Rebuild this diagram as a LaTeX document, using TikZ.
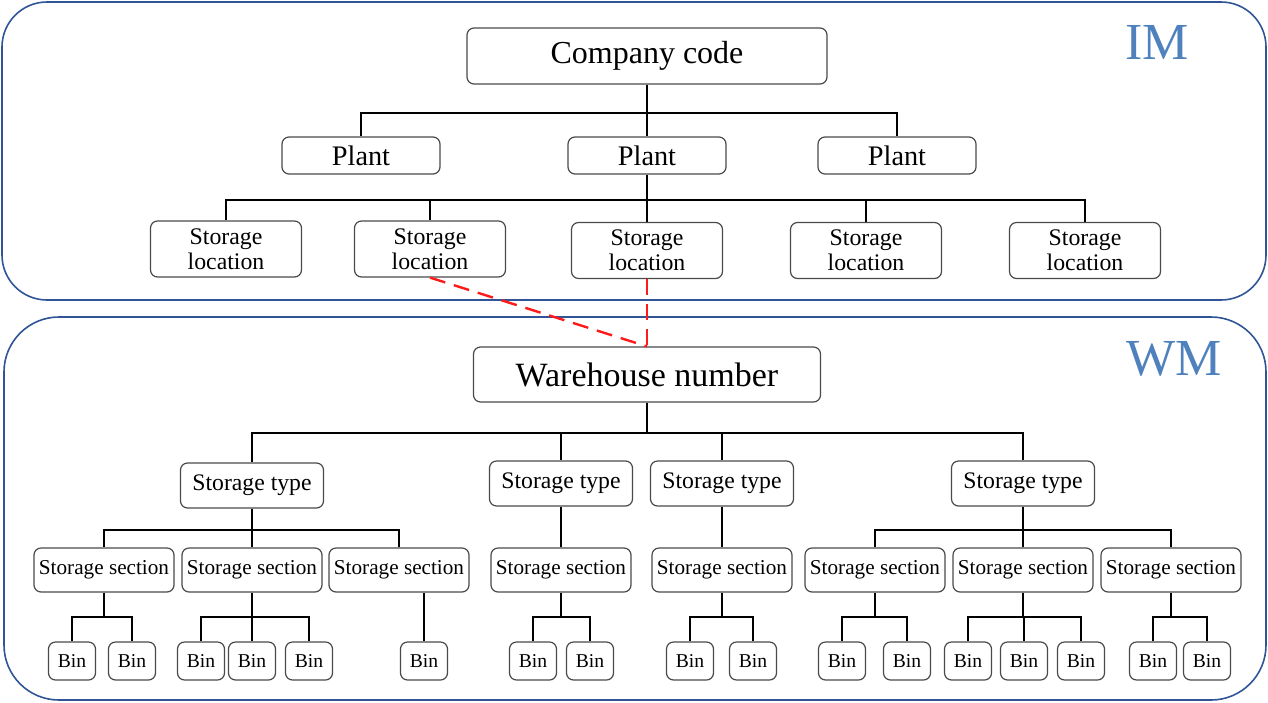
\documentclass[tikz,border=0pt]{standalone}
\usepackage{fontspec}
\setmainfont{Liberation Serif}
\usetikzlibrary{backgrounds}
\definecolor{regionblue}{HTML}{2F5597}
\definecolor{labelblue}{HTML}{4F81BD}
\definecolor{boxgray}{HTML}{4A4A4A}
\definecolor{dashred}{HTML}{FF1A1A}
% parent -> children through a horizontal bus at height #2
\newcommand\treeconn[3]{%
  \foreach \c in {#3}{\draw[link] (#1.south) -- (#1.south |- 0,#2) -| (\c.north);}}
\begin{document}
\begin{tikzpicture}[x=1pt,y=-1pt,
  region/.style={draw=regionblue, line width=1.6pt},
  box/.style={draw=boxgray, line width=1.2pt, rounded corners=7pt, inner sep=0pt,
    fill=white, align=center},
  bigbox/.style={box, minimum width=#1, minimum height=56pt,
    font=\fontsize{32}{36}\selectfont},
  plantbox/.style={box, minimum width=158pt, minimum height=37pt,
    font=\fontsize{28.3}{30}\selectfont},
  locbox/.style={box, minimum width=151pt, minimum height=56pt,
    font=\fontsize{23.8}{25}\selectfont},
  typebox/.style={box, minimum width=143pt, minimum height=45pt,
    font=\fontsize{23.7}{26}\selectfont},
  secbox/.style={box, minimum width=140pt, minimum height=44pt,
    font=\fontsize{21.2}{22}\selectfont},
  binbox/.style={box, minimum width=47pt, minimum height=38pt,
    font=\fontsize{19.6}{22}\selectfont},
  link/.style={line width=2.8pt, black},
  relation/.style={line width=2.4pt, dashred, dash pattern=on 16pt off 9pt},
  area/.style={text=labelblue, font=\fontsize{52}{56}\selectfont, inner sep=0pt}
]
\useasboundingbox (0,0) rectangle (1268,702);

% ---------- inventory management ----------
\node[bigbox=360pt] (cc) at (647,56) {Company code};
\node[plantbox] (p1) at (361,155.5) {Plant};
\node[plantbox] (p2) at (647,155.5) {Plant};
\node[plantbox] (p3) at (897,155.5) {Plant};
\node[locbox] (sl1) at (226,249) {Storage\\location};
\node[locbox] (sl2) at (430,249) {Storage\\location};
\node[locbox] (sl3) at (647,250.5) {Storage\\location};
\node[locbox] (sl4) at (866,250.5) {Storage\\location};
\node[locbox] (sl5) at (1085,250.5) {Storage\\location};

% ---------- warehouse management ----------
\node[bigbox=347pt, minimum height=55pt, font=\fontsize{34}{38}\selectfont] (wh) at (647,374.5) {Warehouse number};
\node[typebox] (st1) at (252,485.5) {Storage type};
\node[typebox] (st2) at (561,483.5) {Storage type};
\node[typebox] (st3) at (722,483.5) {Storage type};
\node[typebox] (st4) at (1023,483.5) {Storage type};

\foreach \n/\x in {ss1/104, ss2/252, ss3/399, ss4/561, ss5/722, ss6/875, ss7/1023, ss8/1171}
  \node[secbox] (\n) at (\x,570) {Storage section};

\foreach \n/\x in {b1/72, b2/132, b3/201, b4/252, b5/309, b6/424, b7/533, b8/590,
                   b9/690, b10/753, b11/842, b12/907, b13/968, b14/1024, b15/1081,
                   b16/1153, b17/1207}
  \node[binbox] (\n) at (\x,661) {Bin};

\begin{scope}[on background layer]
  % the two module areas
  \draw[region, rounded corners=45pt] (2,2) rectangle (1266,300);
  \draw[region, rounded corners=55pt] (4,317) rectangle (1266,700);
  % tree connectors
  \treeconn{cc}{113}{p1,p2,p3}
  \treeconn{p2}{200}{sl1,sl2,sl3,sl4,sl5}
  \treeconn{wh}{433}{st1,st2,st3,st4}
  \treeconn{st1}{530}{ss1,ss2,ss3}
  \treeconn{st2}{530}{ss4}
  \treeconn{st3}{530}{ss5}
  \treeconn{st4}{530}{ss6,ss7,ss8}
  \treeconn{ss1}{617}{b1,b2}
  \treeconn{ss2}{617}{b3,b4,b5}
  \draw[link] (b6.north) -- (b6.north |- ss3.south);
  \treeconn{ss4}{617}{b7,b8}
  \treeconn{ss5}{617}{b9,b10}
  \treeconn{ss6}{617}{b11,b12}
  \treeconn{ss7}{617}{b13,b14,b15}
  \treeconn{ss8}{617}{b16,b17}
\end{scope}

\node[area] (im) at (1157,42) {IM};
\node[area] (wm) at (1174,359) {WM};

% storage locations assigned to the warehouse number
\draw[relation] (sl2.south) -- (wh.north);
\draw[relation] (sl3.south) -- (wh.north);
\end{tikzpicture}
\end{document}
